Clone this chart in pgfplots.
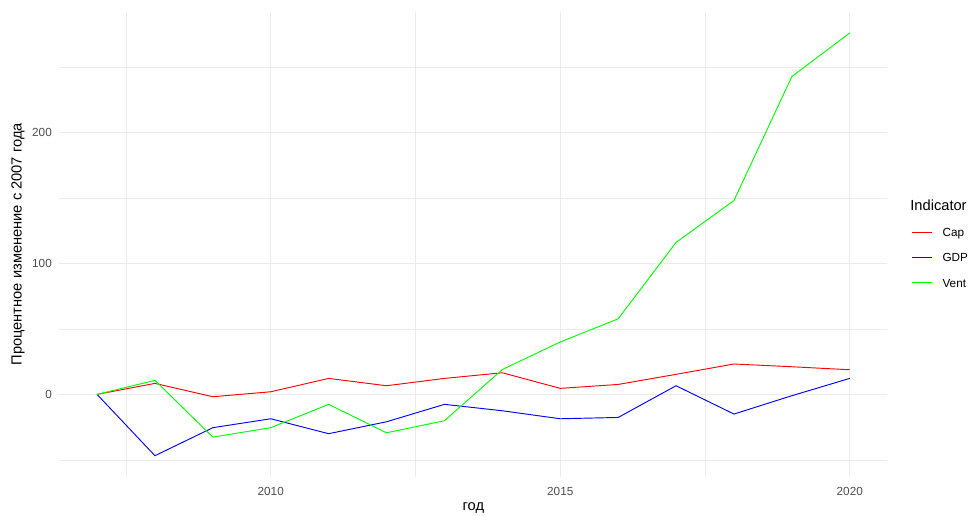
\documentclass[border=0pt]{standalone}
\usepackage{fontspec}
\setmainfont{Liberation Sans}
\usepackage{pgfplots}
\pgfplotsset{compat=1.18}
\definecolor{gridmaj}{HTML}{EBEBEB}
\definecolor{ticktxt}{HTML}{4D4D4D}
\definecolor{capc}{HTML}{FF0000}
\definecolor{gdpc}{HTML}{0000FF}
\definecolor{vent}{HTML}{00FF00}
\begin{document}
\begin{tikzpicture}
\begin{axis}[
  scale only axis,
  width=621pt, height=348.75pt,
  xmin=2006.35, xmax=2020.65,
  ymin=-62.9, ymax=292,
  xtick={2010,2015,2020},
  minor xtick={2007.5,2012.5,2017.5},
  ytick={0,100,200},
  minor ytick={-50,50,150,250},
  xticklabels={2010,2015,2020},
  grid=both,
  major grid style={gridmaj, line width=0.8pt},
  minor grid style={gridmaj, line width=0.4pt},
  axis line style={draw=none},
  major tick length=0pt, minor tick length=0pt,
  tick style={draw=none},
  /pgf/number format/assume math mode=true,
  ticklabel style={font=\fontsize{8.8}{10}\selectfont, text=ticktxt},
  yticklabel style={anchor=east, inner sep=0pt, xshift=-5.5pt},
  xticklabel style={anchor=center, inner sep=0pt, yshift=-11.3pt},
  xlabel={год},
  ylabel={Процентное изменение с 2007 года},
  label style={font=\fontsize{11}{13}\selectfont, inner sep=0pt},
  xlabel style={at={(axis description cs:0.5,-0.0671)}, anchor=center},
  ylabel style={at={(axis description cs:-0.0499,0.5)}, anchor=center},
  legend style={at={(axis description cs:1.0298,0.535)}, anchor=north west, draw=none, fill=none,
    inner sep=0pt, outer sep=0pt, text=black,
    font=\fontsize{8.8}{10}\selectfont, row sep=12.4pt, column sep=0pt,
    nodes={inner sep=0pt, text height=6.5pt, text depth=0pt, text=black}},
  legend cell align=left,
  legend image code/.code={\fill[#1, draw=none] (0pt,-0.55pt) rectangle (15pt,0.55pt); \path (22.5pt,0pt);},
  clip=false,
]
\addplot[capc, line width=0.7pt] coordinates {(2007,0) (2008,8.4) (2009,-1.8) (2010,2) (2011,12.2) (2012,6.6) (2013,12.2) (2014,16.5) (2015,4.6) (2016,7.6) (2017,15.3) (2018,23.2) (2019,21.1) (2020,18.8)};
\addlegendentry{Cap}
\addplot[gdpc, line width=0.7pt] coordinates {(2007,0) (2008,-46.8) (2009,-25.4) (2010,-18.6) (2011,-30) (2012,-20.9) (2013,-7.6) (2014,-12.5) (2015,-18.6) (2016,-17.6) (2017,6.6) (2018,-15) (2019,-1) (2020,12.2)};
\addlegendentry{GDP}
\addplot[vent, line width=0.7pt] coordinates {(2007,0) (2008,10.7) (2009,-32.6) (2010,-25.4) (2011,-7.6) (2012,-29.3) (2013,-20.1) (2014,19) (2015,40) (2016,57.7) (2017,116) (2018,148) (2019,242.6) (2020,275.9)};
\addlegendentry{Vent}
\node[anchor=west, font=\fontsize{11}{13}\selectfont, inner sep=0pt] at (axis description cs:1.0274,0.5845) {Indicator};
\coordinate (panelSW) at (axis description cs:0,0);
\end{axis}
\pgfresetboundingbox
\path (panelSW) ++(-44.55pt,-28.65pt) rectangle ++(727.5pt,386.25pt);
\end{tikzpicture}
\end{document}
